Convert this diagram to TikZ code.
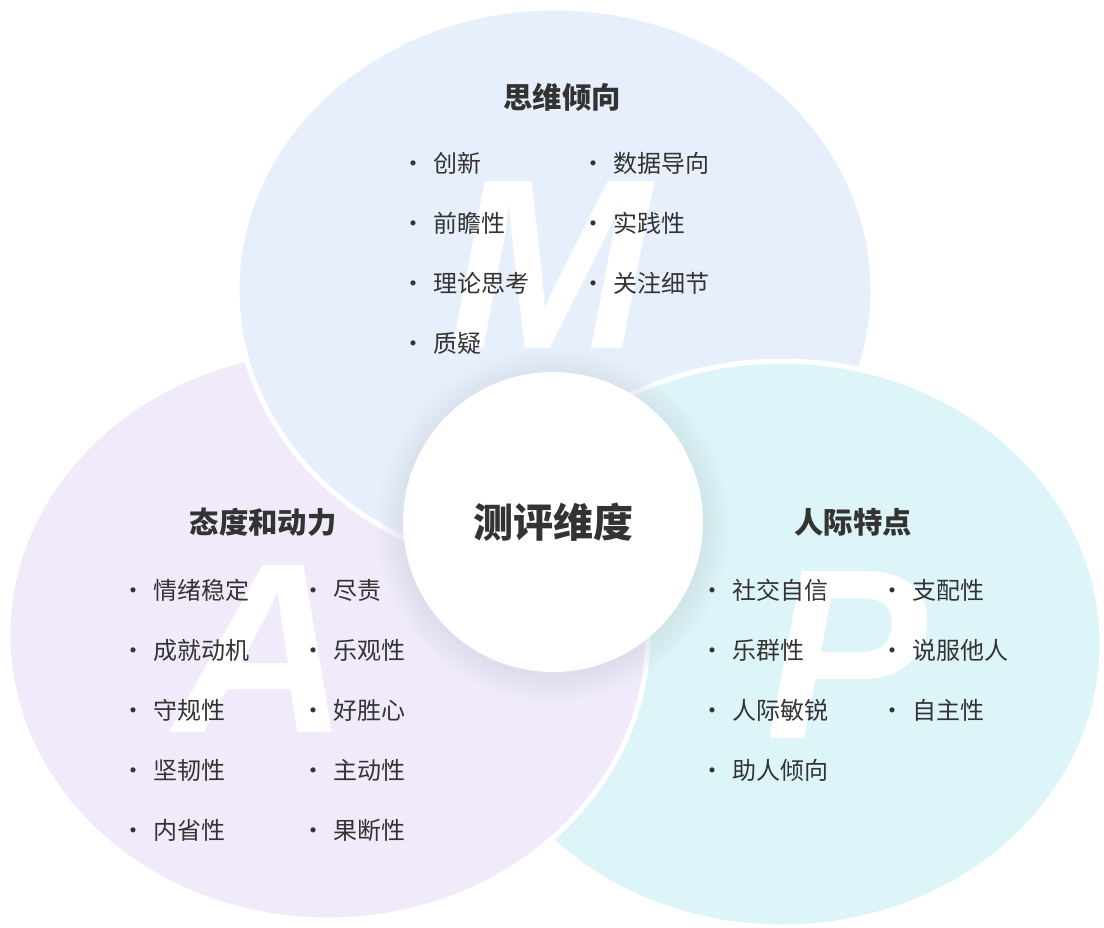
\documentclass[tikz,border=0pt]{standalone}
\usepackage{fontspec}
\setmainfont{Noto Sans CJK SC}
\newfontfamily\letterfont{Liberation Sans}
\usetikzlibrary{positioning}

\definecolor{mblue}{HTML}{E6EFFB}
\definecolor{apurple}{HTML}{F0EAFB}
\definecolor{pcyan}{HTML}{DDF5F8}
\definecolor{ink}{HTML}{333333}
\definecolor{glow}{HTML}{A9B2E0}

\tikzset{
  blob/.style={draw=white, line width=3.75pt},
  title/.style={text=ink, inner sep=0pt, font=\fontsize{22}{24}\selectfont\bfseries},
  trait/.style={text=ink, anchor=west, inner sep=0pt, font=\fontsize{18}{20}\selectfont},
  bigletter/.style={text=white, anchor=base, inner sep=0pt, font=\letterfont\bfseries\itshape\fontsize{182}{182}\selectfont},
  hub/.style={circle, fill=white, minimum size=225pt, inner sep=0pt, text=ink, font=\fontsize{30}{32}\selectfont\bfseries}
}
\newcommand\bul{\makebox[15pt][l]{\makebox[0pt]{·}}}

\begin{document}
\begin{tikzpicture}[x=0.75pt,y=-0.75pt]
\useasboundingbox (0,0) rectangle (1104,928);

% the three dimensions
\path[fill=apurple,blob] (328,635) ellipse [x radius=320, y radius=285];
\path[fill=mblue,blob]   (555,290) ellipse [x radius=318, y radius=282];
\path[fill=pcyan,blob]   (782,644) ellipse [x radius=320, y radius=283];
% A lies over P at the bottom
\begin{scope}
  \clip (0,576) rectangle (1104,928);
  \path[fill=apurple,blob] (328,635) ellipse [x radius=320, y radius=285];
\end{scope}

\node[bigletter] (bigM) at (550,348) {M};
\node[bigletter] (bigA) at (262,732) {A};
\node[bigletter] (bigP) at (846,738) {P};

% soft shadow and hub
\foreach \r in {1,...,14}
  \fill[glow, opacity=0.014] (553,525) circle [radius=149+\r*1.9];
\node[hub] (hub) at (553,522) {测评维度};

% thinking
\node[title] (mtitle) at (562,97) {思维倾向};
\foreach \t [count=\i] in {创新,前瞻性,理论思考,质疑}
  \node[trait] (m1\i) at (413,103+60*\i) {\bul\t};
\foreach \t [count=\i] in {数据导向,实践性,关注细节}
  \node[trait] (m2\i) at (593,103+60*\i) {\bul\t};

% attitude
\node[title] (atitle) at (263,522) {态度和动力};
\foreach \t [count=\i] in {情绪稳定,成就动机,守规性,坚韧性,内省性}
  \node[trait] (a1\i) at (133,530+60*\i) {\bul\t};
\foreach \t [count=\i] in {尽责,乐观性,好胜心,主动性,果断性}
  \node[trait] (a2\i) at (313,530+60*\i) {\bul\t};

% people
\node[title] (ptitle) at (853,522) {人际特点};
\foreach \t [count=\i] in {社交自信,乐群性,人际敏锐,助人倾向}
  \node[trait] (p1\i) at (712,530+60*\i) {\bul\t};
\foreach \t [count=\i] in {支配性,说服他人,自主性}
  \node[trait] (p2\i) at (892,530+60*\i) {\bul\t};
\end{tikzpicture}
\end{document}
